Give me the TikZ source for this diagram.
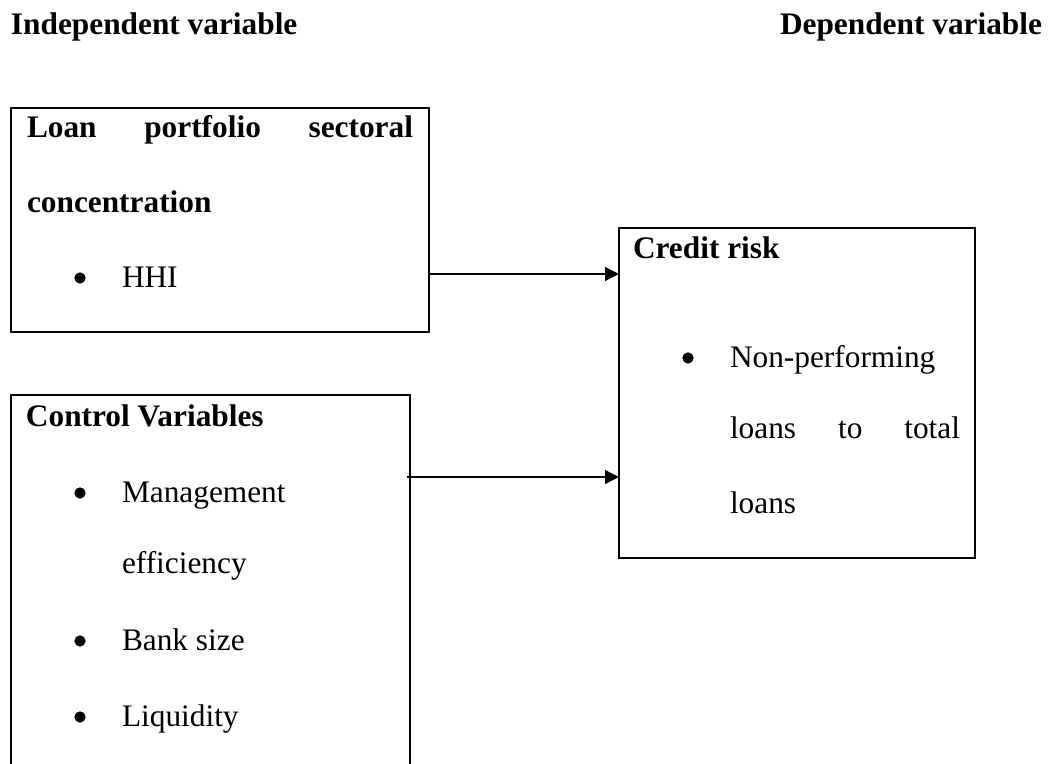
\documentclass[tikz,border=0pt]{standalone}
\usepackage{fontspec}
\setmainfont{Liberation Serif}
\usetikzlibrary{arrows.meta}
\begin{document}
\begin{tikzpicture}[x=0.75pt,y=-0.75pt,
  every node/.style={inner sep=0pt,outer sep=0pt,font=\fontsize{23.5}{28}\selectfont},
  box/.style={draw,line width=1.5pt,rectangle,anchor=north west},
  txt/.style={anchor=base west},
  hd/.style={font=\fontsize{23.5}{28}\selectfont\bfseries},
  bul/.style={circle,fill,minimum size=8.5pt},
  arr/.style={line width=0.9pt,-{Triangle[length=10.5pt,width=10.5pt]}}]
\useasboundingbox (0,0) rectangle (1051,764);
\clip (0,0) rectangle (1051,764);
% headings
\node[txt,hd] (hind) at (11,34) {Independent variable};
\node[anchor=base east,hd] (hdep) at (1042,34) {Dependent variable};
% boxes
\node[box,minimum width=313.5pt,minimum height=168pt] (top) at (11,108) {};
\node[box,minimum width=299.25pt,minimum height=300pt] (bot) at (11,395) {};
\node[box,minimum width=267pt,minimum height=247.5pt] (res) at (619,228) {};
% top box text
\node[txt,hd] (t1) at (27,137) {\makebox[289.5pt][s]{Loan\hfill portfolio\hfill sectoral}};
\node[txt,hd] (t2) at (27,212) {concentration};
\node[bul] (tb1) at (80,278) {};
\node[txt] (t3) at (122,287) {HHI};
% control box text
\node[txt,hd] (c1) at (26,426) {Control Variables};
\node[bul] (cb1) at (80,493) {};
\node[txt] (c2) at (122,502) {Management};
\node[txt] (c3) at (122,573) {efficiency};
\node[bul] (cb2) at (80,641) {};
\node[txt] (c4) at (122,650) {Bank size};
\node[bul] (cb3) at (80,717) {};
\node[txt] (c5) at (122,726) {Liquidity};
% right box text
\node[txt,hd] (r1) at (633,258) {Credit risk};
\node[bul] (rb1) at (688,358) {};
\node[txt] (r2) at (730,367) {Non-performing};
\node[txt] (r3) at (730,438) {\makebox[172.5pt][s]{loans\hfill to\hfill total}};
\node[txt] (r4) at (730,513) {loans};
% arrows
\coordinate (y1) at (0,274);
\coordinate (y2) at (0,477);
\draw[arr] (top.east |- y1) -- (res.west |- y1);
\draw[arr] ([xshift=-2.25pt]bot.east |- y2) -- (res.west |- y2);
\end{tikzpicture}
\end{document}
